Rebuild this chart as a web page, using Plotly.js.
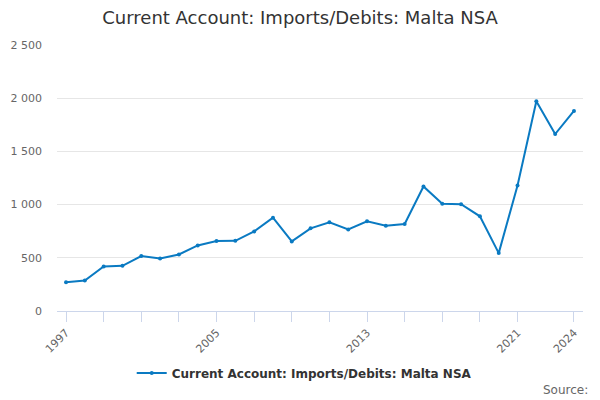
<!DOCTYPE html>
<html>
<head>
<meta charset="utf-8">
<script src="https://cdn.plot.ly/plotly-3.0.1.min.js"></script>
<style>html,body{margin:0;padding:0;background:#fff}#chart{width:600px;height:400px}</style>
</head>
<body>
<div id="chart"></div>
<script>
const years = [1997,1998,1999,2000,2001,2002,2003,2004,2005,2006,2007,2008,2009,2010,2011,2012,2013,2014,2015,2016,2017,2018,2019,2020,2021,2022,2023,2024];
const values = [271,286,418,425,516,494,531,616,657,660,748,877,654,777,833,767,843,802,818,1170,1007,1003,890,544,1179,1972,1663,1880];
const seriesName = "Current Account: Imports/Debits: Malta NSA";
const xTickVals = [1997,1999,2001,2003,2005,2007,2009,2011,2013,2015,2017,2019,2021,2024];
const xTickText = ["1997","","","","2005","","","","2013","","","","2021","2024"];
const yTickVals = [0,500,1000,1500,2000,2500];
const yTickText = ["0","500","1 000","1 500","2 000","2 500"];

const font = "DejaVu Sans, sans-serif";
Plotly.newPlot("chart", [{
  x: years, y: values, name: seriesName, type: "scatter", mode: "lines+markers",
  line: {color: "#0a7ac2", width: 2},
  marker: {color: "#0a7ac2", size: 4},
  showlegend: true
}], {
  width: 600, height: 400,
  paper_bgcolor: "#fff", plot_bgcolor: "#fff",
  margin: {l: 57, r: 17, t: 45, b: 89},
  font: {family: font, color: "#666"},
  title: {text: "Current Account: Imports/Debits: Malta NSA", x: 0.5, xanchor: "center", y: 0.955, yanchor: "middle",
          font: {family: font, size: 18, color: "#333"}},
  xaxis: {range: [1996.52, 2024.48], tickvals: xTickVals, ticktext: xTickText, tickangle: -45,
          showgrid: false, zeroline: false, showline: true, linecolor: "#ccd6eb", linewidth: 1,
          ticks: "outside", ticklen: 10, tickcolor: "#ccd6eb", tickwidth: 1,
          tickfont: {family: font, size: 11, color: "#666"}},
  yaxis: {range: [0, 2500], tickvals: yTickVals, ticktext: yTickText, showgrid: true, gridcolor: "#e6e6e6",
          zeroline: false, showline: false, ticks: "", ticklabelstandoff: 14,
          tickfont: {family: font, size: 11, color: "#666"}},
  showlegend: true,
  legend: {orientation: "h", x: 0.47, xanchor: "center", y: -0.233, yanchor: "middle", itemwidth: 30,
           font: {family: font, size: 12, color: "#333", weight: "bold"}},
  annotations: [{text: "Source:", xref: "paper", yref: "paper", x: 1.013, xanchor: "right", y: -0.297, yanchor: "middle",
                 showarrow: false, font: {family: font, size: 12, color: "#666"}}]
}, {displayModeBar: false, staticPlot: true});
</script>
</body>
</html>
